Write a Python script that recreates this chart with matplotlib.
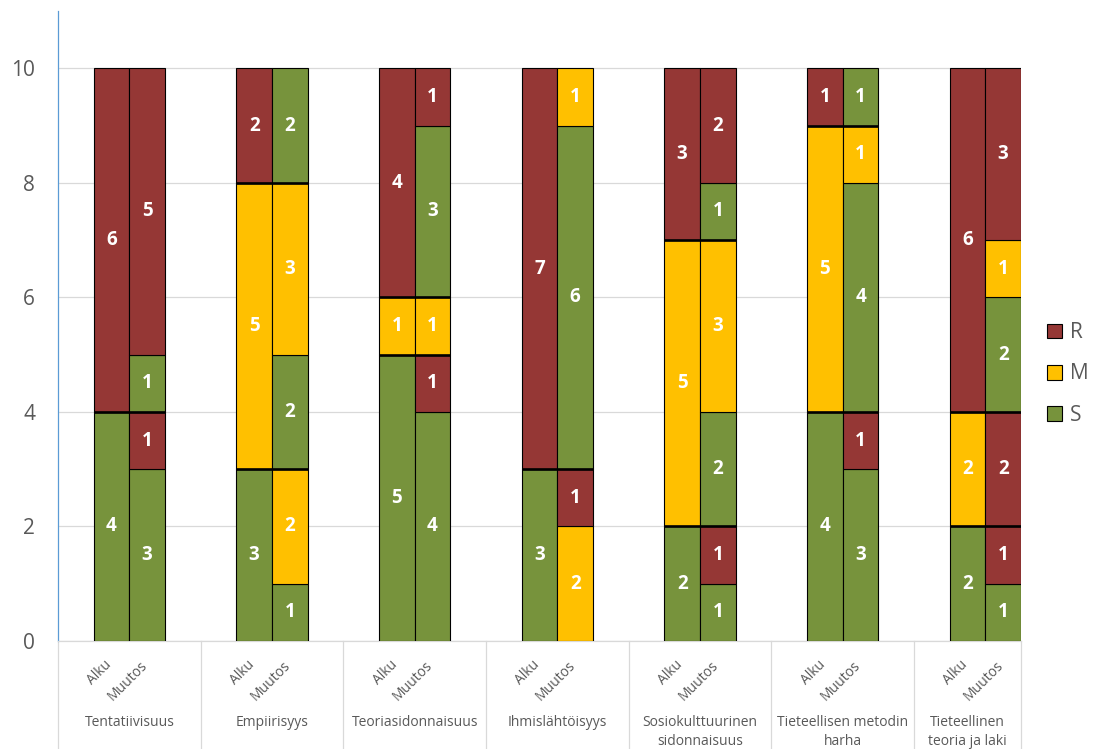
import numpy as np
import matplotlib
matplotlib.use("Agg")
import matplotlib.pyplot as plt
from matplotlib.patches import Patch

plt.rcParams['font.family'] = ['Open Sans', 'DejaVu Sans']

# Category groups along the x axis
groups = [
    "Tentatiivisuus",
    "Empiirisyys",
    "Teoriasidonnaisuus",
    "Ihmislähtöisyys",
    "Sosiokulttuurinen\nsidonnaisuus",
    "Tieteellisen metodin\nharha",
    "Tieteellinen\nteoria ja laki",
]
bar_names = ["Alku", "Muutos"]

# Stacked segments, listed bottom to top: class and count
alku_cats = [
    ["S", "R"],
    ["S", "M", "R"],
    ["S", "M", "R"],
    ["S", "R"],
    ["S", "M", "R"],
    ["S", "M", "R"],
    ["S", "M", "R"],
]
alku_vals = [
    [4, 6],
    [3, 5, 2],
    [5, 1, 4],
    [3, 7],
    [2, 5, 3],
    [4, 5, 1],
    [2, 2, 6],
]
muutos_cats = [
    ["S", "R", "S", "R"],
    ["S", "M", "S", "M", "S"],
    ["S", "R", "M", "S", "R"],
    ["M", "R", "S", "M"],
    ["S", "R", "S", "M", "S", "R"],
    ["S", "R", "S", "M", "S"],
    ["S", "R", "R", "S", "M", "R"],
]
muutos_vals = [
    [3, 1, 1, 5],
    [1, 2, 2, 3, 2],
    [4, 1, 1, 3, 1],
    [2, 1, 6, 1],
    [1, 1, 2, 3, 1, 2],
    [3, 1, 4, 1, 1],
    [1, 1, 2, 2, 1, 3],
]

legend_labels = ["R", "M", "S"]
colors = {"R": "#953735", "M": "#FFC000", "S": "#77933C"}
y_ticks = [0, 2, 4, 6, 8, 10]

W, H = 1097, 749
fig = plt.figure(figsize=(W / 100, H / 100), dpi=100)
ax = fig.add_axes([58 / W, 1 - 641 / H, (1021 - 58) / W, (641 - 11) / H])

bar_w = 0.25
text_grey = "#595959"
grid_grey = "#D9D9D9"
x_max = len(groups) - 1 + bar_w

for i in range(len(groups)):
    stacks = [(alku_cats[i], alku_vals[i]), (muutos_cats[i], muutos_vals[i])]
    for j, (cats, vals) in enumerate(stacks):
        x = i + (j - 0.5) * bar_w
        bottom = 0
        for c, v in zip(cats, vals):
            ax.bar(x, v, bar_w, bottom=bottom, color=colors[c],
                   edgecolor="black", linewidth=0.8, zorder=3)
            ax.text(x, bottom + v / 2, str(v), ha="center", va="center",
                    color="white", fontsize=13.5, fontweight="bold", zorder=5)
            bottom += v
        ax.annotate(bar_names[j], xy=(x, 0), xycoords="data",
                    xytext=(2.5, -12), textcoords="offset points",
                    rotation=45, ha="right", va="top",
                    fontsize=10, color=text_grey, annotation_clip=False)
    # Heavy dividers at the starting-class boundaries, across both bars
    cuts = np.cumsum(alku_vals[i])[:-1]
    ax.hlines(cuts, i - bar_w, i + bar_w, colors="black",
              linewidth=1.9, zorder=4)
    # Group caption centred in the visible part of its slot
    lo, hi = i - 0.5, min(i + 0.5, x_max)
    ax.annotate(groups[i], xy=((lo + hi) / 2, 0), xycoords="data",
                xytext=(0, -53.5), textcoords="offset points",
                ha="center", va="top", fontsize=10, color=text_grey,
                linespacing=1.35, annotation_clip=False)

ax.set_xlim(-0.5, x_max)
ax.set_ylim(0, 11)
ax.set_yticks(y_ticks)
ax.set_xticks([])
ax.tick_params(axis="y", length=0, pad=16.5, labelsize=15, labelcolor=text_grey)
ax.yaxis.grid(True, color=grid_grey, linewidth=0.9, zorder=0)
ax.set_axisbelow(True)

for side in ("top", "right"):
    ax.spines[side].set_visible(False)
ax.spines["left"].set_color("#5B9BD5")
ax.spines["left"].set_linewidth(0.9)
ax.spines["bottom"].set_color(grid_grey)
ax.spines["bottom"].set_linewidth(0.9)

# Group separators below the axis
y_px = ax.transData.transform((0, 0))[1]
depth = y_px / (ax.transData.transform((0, 1))[1] - y_px)
sep_x = list(np.arange(-0.5, len(groups) - 1, 1.0)) + [x_max]
for sx in sep_x:
    ax.plot([sx, sx], [0, -depth], color=grid_grey, linewidth=0.9,
            clip_on=False, zorder=1)

handles = [Patch(facecolor=colors[k], edgecolor="black", linewidth=0.8)
           for k in legend_labels]
fig.legend(handles, legend_labels, loc="center left",
           bbox_to_anchor=(1047 / W, 1 - 374 / H), frameon=False,
           fontsize=15, labelcolor=text_grey, handlelength=0.72,
           handleheight=0.72, handletextpad=0.4, labelspacing=0.97,
           borderpad=0, borderaxespad=0)

fig.savefig("out.png", dpi=100)
